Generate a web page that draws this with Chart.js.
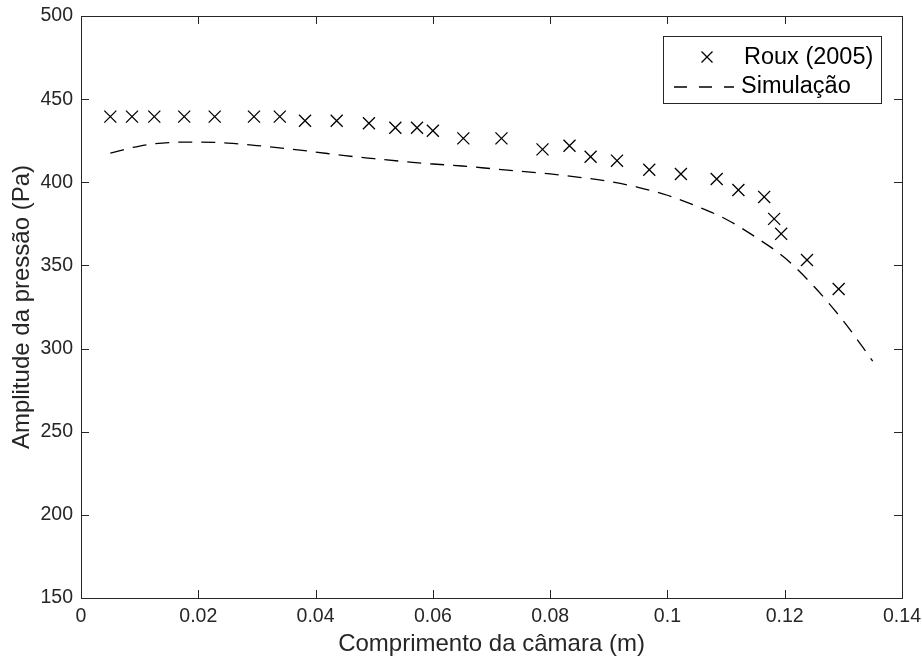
<!DOCTYPE html>
<html>
<head>
<meta charset="utf-8">
<script src="https://cdn.jsdelivr.net/npm/chart.js@4.4.1/dist/chart.umd.min.js"></script>
<style>
	html, body { margin: 0; padding: 0; background: #fff; }
	#wrap { width: 922px; height: 659px; position: relative; }
</style>
</head>
<body>
<div id="wrap"><canvas id="grafico" width="922" height="659"></canvas></div>
<script>
// ===== DATA =====
const rouxX = [0.0050, 0.0087, 0.0125, 0.0176, 0.0228, 0.0295, 0.0339, 0.0382, 0.0436, 0.0491,
	0.0536, 0.0573, 0.0600, 0.0652, 0.0717, 0.0787, 0.0833, 0.0869, 0.0914, 0.0969,
	0.1023, 0.1084, 0.1121, 0.1165, 0.1182, 0.1194, 0.1238, 0.1292];
const rouxY = [439.5, 439.5, 439.5, 439.5, 439.5, 439.5, 439.5, 437, 437, 435.5,
	432.8, 432.8, 431, 426.4, 426.4, 419.8, 422, 415.4, 413, 407.5,
	405, 402, 395.4, 391.2, 378, 369, 353.3, 335.8];

const simX = [0.005, 0.01, 0.015, 0.02, 0.025, 0.03, 0.035, 0.04, 0.045, 0.05,
	0.055, 0.06, 0.065, 0.07, 0.075, 0.08, 0.085, 0.09, 0.095, 0.1,
	0.105, 0.11, 0.115, 0.12, 0.125, 0.13, 0.135];
const simY = [417.6, 421.8, 423.9, 424.2, 423.6, 422.1, 420.3, 418.2, 416, 414.2,
	412.5, 411, 409.8, 408.2, 406.6, 405, 403, 400.5, 397, 392.2,
	385.6, 377.8, 367.1, 354.6, 337.3, 316.6, 292.5];

const xTicks = [0, 0.02, 0.04, 0.06, 0.08, 0.1, 0.12, 0.14];
const yTicks = [150, 200, 250, 300, 350, 400, 450, 500];

const legendLabels = ['Roux (2005)', 'Simulação'];

const eixoCor = '#262626';
const fonte = '"Liberation Sans", Arial, Helvetica, sans-serif';

// ===== FRAME + INWARD TICKS + LEGEND =====
const molduraPlugin = {
	id: 'moldura',
	afterDraw(chart) {
		const { ctx, chartArea: a, scales } = chart;
		ctx.save();
		ctx.strokeStyle = eixoCor;
		ctx.lineWidth = 1;
		ctx.setLineDash([]);
		ctx.strokeRect(Math.round(a.left) + 0.5, Math.round(a.top) + 0.5,
			Math.round(a.right - a.left), Math.round(a.bottom - a.top));
		const tl = 8;
		xTicks.forEach(v => {
			const px = Math.round(scales.x.getPixelForValue(v)) + 0.5;
			ctx.beginPath();
			ctx.moveTo(px, a.bottom); ctx.lineTo(px, a.bottom - tl);
			ctx.moveTo(px, a.top); ctx.lineTo(px, a.top + tl);
			ctx.stroke();
		});
		yTicks.forEach(v => {
			const py = Math.round(scales.y.getPixelForValue(v)) + 0.5;
			ctx.beginPath();
			ctx.moveTo(a.left, py); ctx.lineTo(a.left + tl, py);
			ctx.moveTo(a.right, py); ctx.lineTo(a.right - tl, py);
			ctx.stroke();
		});

		// legend box
		const lx = 663, ly = 36, lw = 218, lh = 67;
		ctx.fillStyle = '#fff';
		ctx.fillRect(lx, ly, lw, lh);
		ctx.strokeStyle = eixoCor;
		ctx.strokeRect(lx + 0.5, ly + 0.5, lw, lh);

		// marker
		ctx.strokeStyle = '#000';
		ctx.lineWidth = 1.3;
		const mx = 707, my = 57, r = 5.5;
		ctx.beginPath();
		ctx.moveTo(mx - r, my - r); ctx.lineTo(mx + r, my + r);
		ctx.moveTo(mx - r, my + r); ctx.lineTo(mx + r, my - r);
		ctx.stroke();

		// dashed line
		ctx.setLineDash([13, 12]);
		ctx.beginPath();
		ctx.moveTo(674, 87); ctx.lineTo(734, 87);
		ctx.stroke();
		ctx.setLineDash([]);

		ctx.fillStyle = '#000';
		ctx.font = '23.5px ' + fonte;
		ctx.textBaseline = 'middle';
		ctx.textAlign = 'left';
		ctx.fillText(legendLabels[0], 744, 58);
		ctx.fillText(legendLabels[1], 741, 87);
		ctx.restore();
	}
};

// ===== CHART =====
const ctx = document.getElementById('grafico').getContext('2d');

new Chart(ctx, {
	type: 'scatter',
	data: {
		datasets: [
			{
				label: legendLabels[0],
				data: rouxX.map((x, i) => ({ x: x, y: rouxY[i] })),
				pointStyle: 'crossRot',
				pointRadius: 8.5,
				pointBorderWidth: 1.3,
				borderColor: '#000',
				backgroundColor: '#000',
				showLine: false
			},
			{
				label: legendLabels[1],
				data: simX.map((x, i) => ({ x: x, y: simY[i] })),
				showLine: true,
				pointRadius: 0,
				borderColor: '#000',
				borderWidth: 1.3,
				borderDash: [14, 9],
				tension: 0.4,
				cubicInterpolationMode: 'monotone',
				fill: false
			}
		]
	},
	options: {
		responsive: false,
		animation: false,
		layout: {
			padding: { top: 16, right: 20, left: 0, bottom: 0 }
		},
		plugins: {
			legend: { display: false },
			tooltip: { enabled: false }
		},
		scales: {
			x: {
				type: 'linear',
				min: 0,
				max: 0.14,
				afterBuildTicks: s => { s.ticks = xTicks.map(v => ({ value: v })); },
				afterFit: s => { s.height = 61; s.paddingLeft = 0; s.paddingRight = 0; },
				grid: { display: false, drawTicks: false },
				border: { display: false },
				ticks: {
					color: eixoCor,
					padding: 7,
					maxRotation: 0,
					font: { size: 19.5, family: fonte },
					callback: v => String(+v.toFixed(2))
				},
				title: {
					display: true,
					text: 'Comprimento da câmara (m)',
					color: eixoCor,
					padding: { top: 0, bottom: 0 },
					font: { size: 24, family: fonte }
				}
			},
			y: {
				type: 'linear',
				min: 150,
				max: 500,
				afterBuildTicks: s => { s.ticks = yTicks.map(v => ({ value: v })); },
				afterFit: s => { s.width = 81; s.paddingTop = 0; s.paddingBottom = 0; },
				grid: { display: false, drawTicks: false },
				border: { display: false },
				ticks: {
					color: eixoCor,
					padding: 8,
					font: { size: 19.5, family: fonte }
				},
				title: {
					display: true,
					text: 'Amplitude da pressão (Pa)',
					color: eixoCor,
					padding: { top: 8, bottom: 0 },
					font: { size: 24, family: fonte }
				}
			}
		}
	},
	plugins: [molduraPlugin]
});
</script>
</body>
</html>
